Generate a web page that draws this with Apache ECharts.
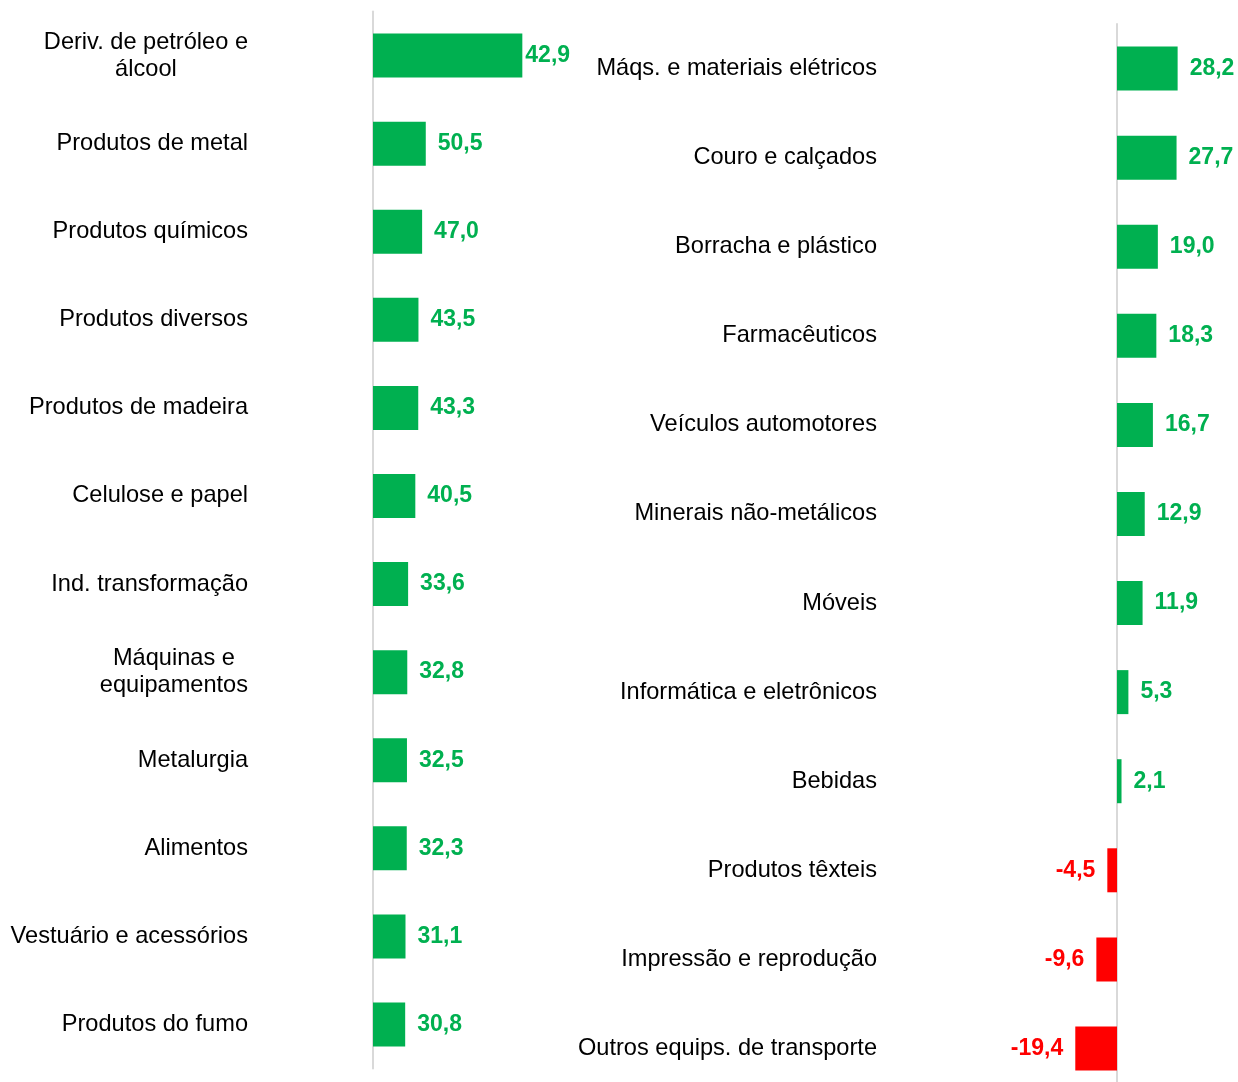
<!DOCTYPE html>
<html>
<head>
<meta charset="utf-8">
<script src="https://cdn.jsdelivr.net/npm/echarts@6/dist/echarts.min.js"></script>
<style>
  html, body { margin: 0; padding: 0; background: #fff; }
  #chart { width: 1238px; height: 1082px; }
</style>
</head>
<body>
<div id="chart"></div>
<script>
// painel esquerdo
var leftCats = ['Deriv. de petróleo e\nálcool', 'Produtos de metal', 'Produtos químicos', 'Produtos diversos',
    'Produtos de madeira', 'Celulose e papel', 'Ind. transformação', 'Máquinas e\nequipamentos',
    'Metalurgia', 'Alimentos', 'Vestuário e acessórios', 'Produtos do fumo'];
var leftValues = [142.9, 50.5, 47.0, 43.5, 43.3, 40.5, 33.6, 32.8, 32.5, 32.3, 31.1, 30.8];
var leftLabels = ['42,9', '50,5', '47,0', '43,5', '43,3', '40,5', '33,6', '32,8', '32,5', '32,3', '31,1', '30,8'];

// painel direito
var rightCats = ['Máqs. e materiais elétricos', 'Couro e calçados', 'Borracha e plástico', 'Farmacêuticos',
    'Veículos automotores', 'Minerais não-metálicos', 'Móveis', 'Informática e eletrônicos',
    'Bebidas', 'Produtos têxteis', 'Impressão e reprodução', 'Outros equips. de transporte'];
var rightValues = [28.2, 27.7, 19.0, 18.3, 16.7, 12.9, 11.9, 5.3, 2.1, -4.5, -9.6, -19.4];

var GREEN = '#00b050';
var RED = '#ff0000';
var FONT = '"Liberation Sans", Arial, sans-serif';

function fmt(v) {
    return v.toFixed(1).replace('.', ',');
}

// rotulos de duas linhas ficam centralizados
function catLabel(value) {
    if (value.indexOf('\n') < 0) return value;
    return value.split('\n').map(function (s) { return '{c|' + s + '}'; }).join('\n');
}

var catAxisLabel = {
    color: '#000',
    fontSize: 23.6,
    fontFamily: FONT,
    formatter: catLabel,
    rich: {
        c: { align: 'center', fontSize: 23.6, fontFamily: FONT, color: '#000', lineHeight: 27 }
    }
};

var leftData = leftValues.map(function (v, i) {
    return {
        value: v,
        itemStyle: { color: GREEN },
        label: { distance: i === 0 ? 3 : 12 }
    };
});

var rightData = rightValues.map(function (v) {
    return {
        value: v,
        itemStyle: { color: v < 0 ? RED : GREEN },
        label: { position: v < 0 ? 'left' : 'right', color: v < 0 ? RED : GREEN }
    };
});

var chart = echarts.init(document.getElementById('chart'));
var option = {
    backgroundColor: '#fff',
    animation: false,
    grid: [
        { left: 373, top: 11.5, width: 209, height: 1057, outerBoundsMode: 'none', containLabel: false },
        { left: 1031, top: 24, width: 172, height: 1069, outerBoundsMode: 'none', containLabel: false }
    ],
    xAxis: [
        { type: 'value', gridIndex: 0, min: 0, max: 200, show: false },
        { type: 'value', gridIndex: 1, min: -40, max: 40, show: false }
    ],
    yAxis: [
        {
            type: 'category', gridIndex: 0, inverse: true, data: leftCats,
            axisLine: { show: true, lineStyle: { color: '#d9d9d9', width: 2 } },
            axisTick: { show: false },
            splitLine: { show: false },
            axisLabel: Object.assign({ margin: 125 }, catAxisLabel)
        },
        {
            type: 'category', gridIndex: 1, inverse: true, data: rightCats,
            axisLine: { show: true, onZero: true, lineStyle: { color: '#d9d9d9', width: 2 } },
            axisTick: { show: false },
            splitLine: { show: false },
            axisLabel: Object.assign({ margin: 154 }, catAxisLabel)
        }
    ],
    series: [
        {
            type: 'bar', xAxisIndex: 0, yAxisIndex: 0,
            data: leftData,
            barWidth: 44,
            label: {
                show: true, position: 'right',
                color: GREEN, fontSize: 23, fontWeight: 'bold', fontFamily: FONT,
                formatter: function (p) { return leftLabels[p.dataIndex]; }
            }
        },
        {
            type: 'bar', xAxisIndex: 1, yAxisIndex: 1,
            data: rightData,
            barWidth: 44,
            label: {
                show: true, distance: 12,
                fontSize: 23, fontWeight: 'bold', fontFamily: FONT,
                formatter: function (p) { return fmt(p.value); }
            }
        }
    ]
};
chart.setOption(option);
window.addEventListener('resize', function () {
    chart.resize();
});
</script>
</body>
</html>
